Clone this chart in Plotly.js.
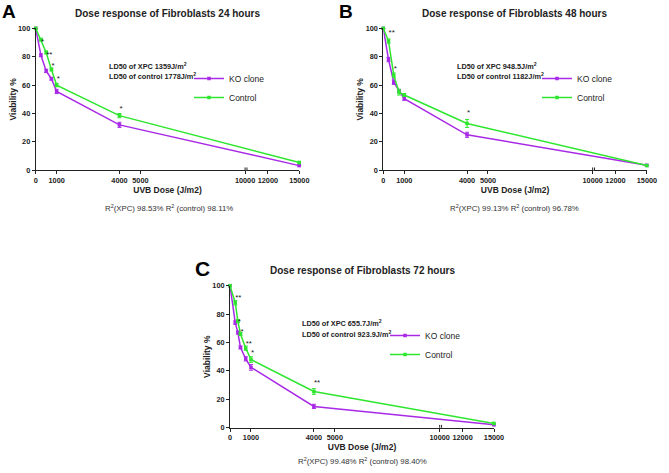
<!DOCTYPE html>
<html><head><meta charset="utf-8">
<script src="https://cdn.plot.ly/plotly-3.0.1.min.js"></script>
<style>html,body{margin:0;padding:0;background:#fff}#chart{width:669px;height:473px}</style>
</head><body><div id="chart"></div>
<script>
// ---------- data ----------
const dosesAB = [0, 250, 500, 750, 1000, 4000, 15000];
const dosesC  = [0, 250, 375, 500, 750, 1000, 4000, 15000];

const koA      = [100, 81, 70, 64.5, 55.5, 32, 3.3];
const koErrA   = [0, 1, 1.2, 1, 1.5, 1.8, 0.5];
const ctrlA    = [100, 92, 83, 71, 60, 38.5, 5.5];
const ctrlErrA = [0, 1, 1, 1, 1.2, 1.5, 0.8];

const koB      = [100, 78, 62, 56, 50.5, 25, 3.5];
const koErrB   = [0, 1.5, 1.5, 1, 1.2, 1.8, 0.8];
const ctrlB    = [100, 91, 67, 55, 53, 33, 3.3];
const ctrlErrB = [0, 1.5, 1.5, 2, 1, 2.8, 0.5];

const koC      = [100, 74, 67, 56.5, 48.5, 42.5, 15, 2];
const koErrC   = [0, 1.2, 1, 1, 1.5, 2, 1.5, 0.5];
const ctrlC    = [100, 88, 75, 66, 56, 48, 25.5, 3];
const ctrlErrC = [0, 1.5, 1, 1, 1.5, 2, 2, 0.8];

const starDosesA = [250, 500, 750, 1000, 4000];
const starLevelA = [90.6, 81.2, 73.5, 64.6, 43];
const starTextA  = ['*', '**', '*', '*', '*'];
const starDosesB = [250, 500, 4000];
const starLevelB = [96.5, 71.1, 40.1];
const starTextB  = ['**', '*', '*'];
const starDosesC = [250, 375, 500, 750, 1000, 4000];
const starLevelC = [91.5, 74.6, 67.6, 58.7, 52.8, 31.2];
const starTextC  = ['**', '*', '*', '**', '*', '**'];

const tickDoses  = [0, 1000, 4000, 5000, 10000, 12000, 15000];
const tickLabels = ['0', '1000', '4000', '5000', '10000', '12000', '15000'];
const yTicks     = [0, 20, 40, 60, 80, 100];
const seriesNames = ['KO clone', 'Control'];

const titles  = ['Dose response of Fibroblasts 24 hours', 'Dose response of Fibroblasts 48 hours', 'Dose response of Fibroblasts 72 hours'];
const letters = ['A', 'B', 'C'];
const ld50Xpc  = ['1359', '948.5', '655.7'];
const ld50Ctrl = ['1778', '1182', '923.9'];
const r2Xpc  = ['98.53%', '99.13%', '99.48%'];
const r2Ctrl = ['98.11%', '96.78%', '98.40%'];

// ---------- broken x axis: 0-10000 linear, small gap, 10000-15000 at half scale ----------
const BREAK = 10000, GAP = 90, SECOND_SCALE = 0.5;
function axisPos(d) { return d <= BREAK ? d : BREAK + GAP + (d - BREAK) * SECOND_SCALE; }

// ---------- layout geometry (pixels) ----------
const W = 669, H = 473;
const px = p => p / W, py = p => 1 - p / H;
const PURPLE = '#a82ae6', GREEN = '#2ee62e';
const FONT = 'Liberation Sans, Arial, sans-serif';

const geom = [
  {x0: 35.7, x1: 299.3, yt: 28.3, yb: 170.3, letter: [8.5, 12, 19], title: [167.5, 13.5], ld: [106.5, 65.7, 76.3], r2: [169, 208], leg: [189, 64]},
  {x0: 383.3, x1: 646.9, yt: 28.3, yb: 170.3, letter: [346, 12, 19], title: [514, 13.5], ld: [455, 65.7, 76.3], r2: [514, 208], leg: [537, 64]},
  {x0: 230, x1: 494, yt: 285.7, yb: 427.7, letter: [202, 268, 21], title: [362.5, 270.7], ld: [300, 322.7, 333.5], r2: [362.5, 461], leg: [385, 321]}
];

const datasets = [
  {doses: dosesAB, ko: koA, koErr: koErrA, ctrl: ctrlA, ctrlErr: ctrlErrA, sd: starDosesA, sl: starLevelA, st: starTextA},
  {doses: dosesAB, ko: koB, koErr: koErrB, ctrl: ctrlB, ctrlErr: ctrlErrB, sd: starDosesB, sl: starLevelB, st: starTextB},
  {doses: dosesC,  ko: koC, koErr: koErrC, ctrl: ctrlC, ctrlErr: ctrlErrC, sd: starDosesC, sl: starLevelC, st: starTextC}
];

const traces = [];
const layout = {
  width: W, height: H,
  margin: {l: 0, r: 0, t: 0, b: 0},
  paper_bgcolor: '#fff', plot_bgcolor: '#fff',
  font: {family: FONT, color: '#222', size: 9},
  showlegend: true,
  annotations: [], shapes: []
};

datasets.forEach((ds, i) => {
  const g = geom[i];
  const sfx = i === 0 ? '' : String(i + 1);
  const xa = 'x' + sfx, ya = 'y' + sfx;
  const legKey = i === 0 ? 'legend' : 'legend' + (i + 1);

  const mk = (name, ys, errs, color) => ({
    type: 'scatter', mode: 'lines+markers', name: name,
    x: ds.doses.map(axisPos), y: ys,
    xaxis: xa, yaxis: ya, legend: legKey, cliponaxis: false,
    line: {color: color, width: 1.5},
    marker: {color: color, size: 3.5, symbol: 'square'},
    error_y: {type: 'data', array: errs, visible: true, color: color, thickness: 1, width: 2}
  });
  traces.push(mk(seriesNames[0], ds.ko, ds.koErr, PURPLE));
  traces.push(mk(seriesNames[1], ds.ctrl, ds.ctrlErr, GREEN));
  traces.push({
    type: 'scatter', mode: 'text', x: ds.sd.map(axisPos), y: ds.sl, text: ds.st,
    textposition: 'middle right', cliponaxis: false, showlegend: false, hoverinfo: 'skip',
    textfont: {family: FONT, size: 8, color: '#222'},
    xaxis: xa, yaxis: ya
  });

  layout['xaxis' + sfx] = {
    domain: [px(g.x0), px(g.x1)], anchor: ya, range: [0, axisPos(15000)],
    tickmode: 'array', tickvals: tickDoses.map(axisPos), ticktext: tickLabels, tickangle: 0,
    ticks: 'outside', ticklen: 3, tickwidth: 1, tickcolor: '#222',
    showline: true, linecolor: '#222', linewidth: 1, showgrid: false, zeroline: false,
    tickfont: {family: FONT, size: 7.3, weight: 'bold', color: '#222'},
    automargin: false,
    title: {text: 'UVB Dose (J/m2)', font: {family: FONT, size: 8.5, weight: 'bold', color: '#222'}, standoff: 2}
  };
  layout['yaxis' + sfx] = {
    domain: [py(g.yb), py(g.yt)], anchor: xa, range: [0, 100],
    tickmode: 'array', tickvals: yTicks,
    ticks: 'outside', ticklen: 3, tickwidth: 1, tickcolor: '#222',
    showline: true, linecolor: '#222', linewidth: 1, showgrid: false, zeroline: false,
    tickfont: {family: FONT, size: 7.3, weight: 'bold', color: '#222'},
    automargin: false,
    title: {text: 'Viability %', font: {family: FONT, size: 8.5, weight: 'bold', color: '#222'}, standoff: 0}
  };
  layout[legKey] = {
    x: px(g.leg[0]), y: py(g.leg[1]), xanchor: 'left', yanchor: 'top',
    bgcolor: 'rgba(0,0,0,0)', borderwidth: 0,
    font: {family: FONT, size: 8.5, color: '#222'}
  };

  // axis break marks
  layout.shapes.push({type: 'rect', xref: xa, yref: ya, x0: BREAK + 15, x1: BREAK + GAP - 15, y0: -1, y1: 1,
    fillcolor: '#fff', line: {width: 0}});
  [BREAK, BREAK + GAP].forEach(v => layout.shapes.push({type: 'line', xref: xa, yref: ya,
    x0: v, x1: v, y0: -2, y1: 2, line: {color: '#222', width: 1}}));

  // texts
  layout.annotations.push({xref: 'paper', yref: 'paper', x: px(g.letter[0]), y: py(g.letter[1]),
    text: '<b>' + letters[i] + '</b>', showarrow: false, xanchor: 'center', yanchor: 'middle',
    font: {family: FONT, size: g.letter[2], color: '#000'}});
  layout.annotations.push({xref: 'paper', yref: 'paper', x: px(g.title[0]), y: py(g.title[1]),
    text: '<b>' + titles[i] + '</b>', showarrow: false, xanchor: 'center', yanchor: 'middle',
    font: {family: FONT, size: 10, color: '#222'}});
  layout.annotations.push({xref: 'paper', yref: 'paper', x: px(g.ld[0]), y: py(g.ld[1]),
    text: '<b>LD50 of XPC ' + ld50Xpc[i] + 'J/m<sup>2</sup></b>', showarrow: false, xanchor: 'left', yanchor: 'middle',
    font: {family: FONT, size: 7.3, color: '#222'}});
  layout.annotations.push({xref: 'paper', yref: 'paper', x: px(g.ld[0]), y: py(g.ld[2]),
    text: '<b>LD50 of control ' + ld50Ctrl[i] + 'J/m<sup>2</sup></b>', showarrow: false, xanchor: 'left', yanchor: 'middle',
    font: {family: FONT, size: 7.3, color: '#222'}});
  layout.annotations.push({xref: 'paper', yref: 'paper', x: px(g.r2[0]), y: py(g.r2[1]),
    text: 'R<sup>2</sup>(XPC) ' + r2Xpc[i] + ' R<sup>2</sup> (control) ' + r2Ctrl[i], showarrow: false,
    xanchor: 'center', yanchor: 'middle', font: {family: FONT, size: 7.8, color: '#333'}});
});

Plotly.newPlot('chart', traces, layout, {staticPlot: true, displayModeBar: false});
</script>
</body></html>
